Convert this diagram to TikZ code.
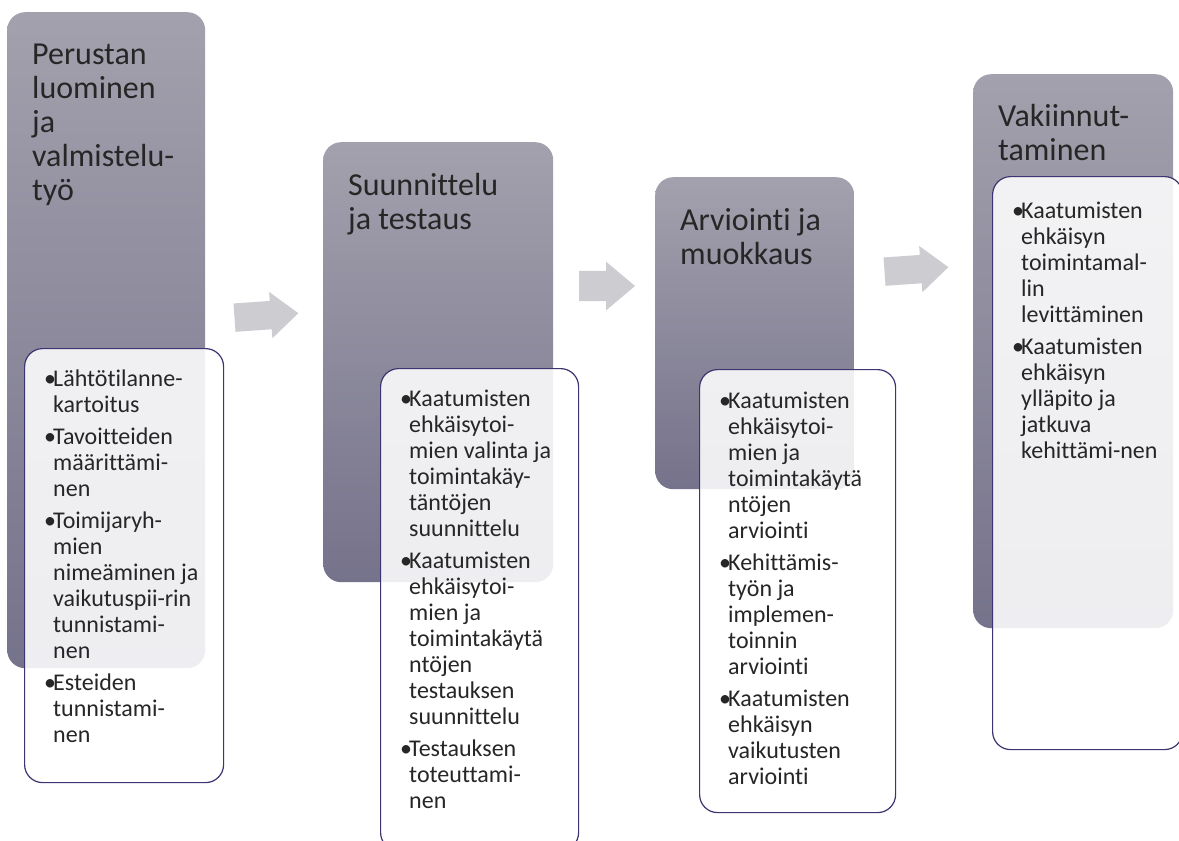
\documentclass[tikz,border=0pt]{standalone}
\usepackage{fontspec}
\setmainfont{Carlito}[Ligatures={NoCommon, NoContextual}]
\usetikzlibrary{positioning, shapes.arrows}
\definecolor{vaiheYla}{HTML}{A3A1AD}
\definecolor{vaiheAla}{HTML}{75728B}
\definecolor{listaReuna}{HTML}{3D3572}
\definecolor{nuoliHarmaa}{HTML}{CDCCD1}
\definecolor{tekstiTumma}{HTML}{262626}
\newcommand{\kohta}{\makebox[9pt][l]{\textbullet}}

\begin{document}
\begin{tikzpicture}[x=1pt, y=1pt,
vaihe/.style={rectangle, rounded corners=18pt, top color=vaiheYla, bottom color=vaiheAla, inner sep=0pt, anchor=north west},
lista/.style={rectangle, rounded corners=18pt, draw=listaReuna, line width=1.2pt, fill=white, fill opacity=0.88, inner sep=0pt, anchor=north west},
otsikko/.style={inner sep=0pt, text=tekstiTumma, font=\fontsize{32}{34}\selectfont},
kohdat/.style={inner sep=0pt, text=tekstiTumma, font=\fontsize{24}{26}\selectfont},
nuoli/.style={single arrow, fill=nuoliHarmaa, inner xsep=0pt, inner ysep=14pt, single arrow head extend=9pt, single arrow tip angle=80}
]
\useasboundingbox (0,0) rectangle (1179,-841);
\clip (0,0) rectangle (1179,-841);
\fill[white] (0,0) rectangle (1179,-841);

% vaiheet
\node[vaihe, minimum width=198pt, minimum height=656pt] (vaihe1) at (7,-12) {};
\node[vaihe, minimum width=230pt, minimum height=440pt] (vaihe2) at (323,-142) {};
\node[vaihe, minimum width=199pt, minimum height=312pt] (vaihe3) at (655,-177) {};
\node[vaihe, minimum width=200pt, minimum height=554pt] (vaihe4) at (973,-74) {};

\node[nuoli, minimum height=64pt, rotate=4] (nuoli1) at (258,-316) {};
\node[nuoli, minimum height=56pt, inner ysep=15pt] (nuoli2) at (598,-286) {};
\node[nuoli, minimum height=64pt, rotate=4] (nuoli3) at (908,-270) {};

\node[otsikko, below right=28pt and 25pt of vaihe1.north west] (otsikko1) {\begin{tabular}{@{}l@{}}Perustan\\luominen\\ja\\valmistelu-\\työ\end{tabular}};
\node[otsikko, below right=29pt and 25pt of vaihe2.north west] (otsikko2) {\begin{tabular}{@{}l@{}}Suunnittelu\\ja testaus\end{tabular}};
\node[otsikko, below right=29pt and 25pt of vaihe3.north west] (otsikko3) {\begin{tabular}{@{}l@{}}Arviointi ja\\muokkaus\end{tabular}};
\node[otsikko, below right=28pt and 25pt of vaihe4.north west] (otsikko4) {\begin{tabular}{@{}l@{}}Vakiinnut-\\taminen\end{tabular}};

% listat
\node[lista, minimum width=199pt, minimum height=434pt] (lista1) at (24,-348) {};
\node[lista, minimum width=198pt, minimum height=482pt] (lista2) at (380,-368) {};
\node[lista, minimum width=196pt, minimum height=443pt] (lista3) at (699,-369) {};
\node[lista, minimum width=190pt, minimum height=573pt] (lista4) at (992,-176) {};

\node[kohdat, below right=20pt and 20pt of lista1.north west] (kohdat1) {\begin{tabular}{@{}l@{}l@{}}
\kohta & Lähtötilanne-\\ & kartoitus\\[6pt]
\kohta & Tavoitteiden\\ & määrittämi-\\ & nen\\[6pt]
\kohta & Toimijaryh-\\ & mien\\ & nimeäminen ja\\ & vaikutuspii-rin\\ & tunnistami-\\ & nen\\[6pt]
\kohta & Esteiden\\ & tunnistami-\\ & nen
\end{tabular}};
\node[kohdat, below right=20pt and 20pt of lista2.north west] (kohdat2) {\begin{tabular}{@{}l@{}l@{}}
\kohta & Kaatumisten\\ & ehkäisytoi-\\ & mien valinta ja\\ & toimintakäy-\\ & täntöjen\\ & suunnittelu\\[6pt]
\kohta & Kaatumisten\\ & ehkäisytoi-\\ & mien ja\\ & toimintakäytä\\ & ntöjen\\ & testauksen\\ & suunnittelu\\[6pt]
\kohta & Testauksen\\ & toteuttami-\\ & nen
\end{tabular}};
\node[kohdat, below right=21pt and 20pt of lista3.north west] (kohdat3) {\begin{tabular}{@{}l@{}l@{}}
\kohta & Kaatumisten\\ & ehkäisytoi-\\ & mien ja\\ & toimintakäytä\\ & ntöjen\\ & arviointi\\[6pt]
\kohta & Kehittämis-\\ & työn ja\\ & implemen-\\ & toinnin\\ & arviointi\\[6pt]
\kohta & Kaatumisten\\ & ehkäisyn\\ & vaikutusten\\ & arviointi
\end{tabular}};
\node[kohdat, below right=24pt and 20pt of lista4.north west] (kohdat4) {\begin{tabular}{@{}l@{}l@{}}
\kohta & Kaatumisten\\ & ehkäisyn\\ & toimintamal-\\ & lin\\ & levittäminen\\[6pt]
\kohta & Kaatumisten\\ & ehkäisyn\\ & ylläpito ja\\ & jatkuva\\ & kehittämi-nen
\end{tabular}};
\end{tikzpicture}
\end{document}
